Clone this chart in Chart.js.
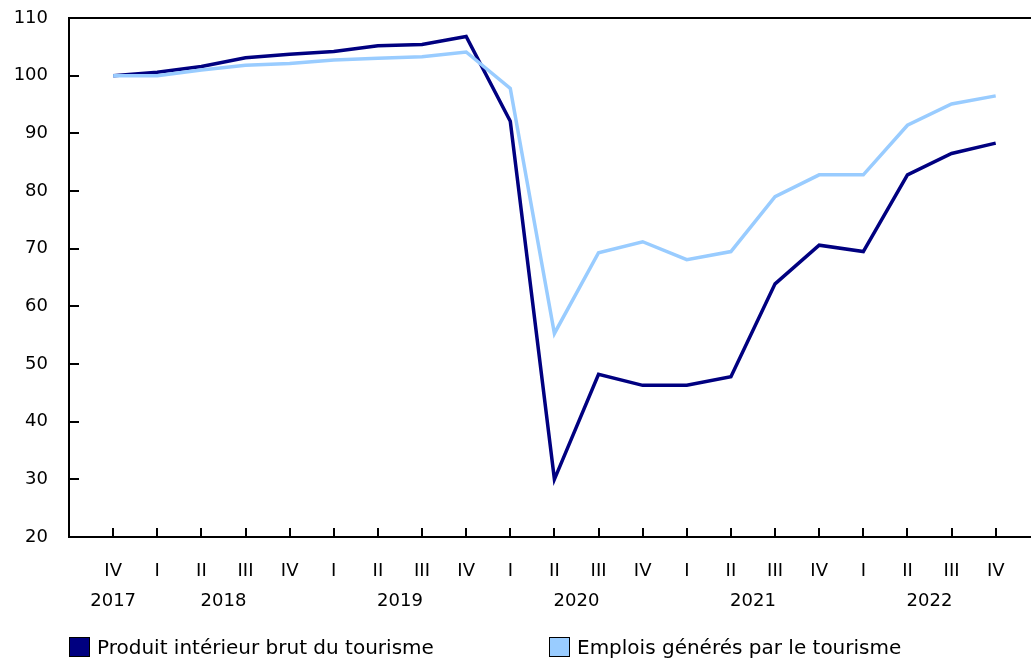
<!DOCTYPE html>
<html>
<head>
<meta charset="utf-8">
<script src="https://cdn.jsdelivr.net/npm/chart.js@4/dist/chart.umd.min.js"></script>
<style>
    body { margin: 0; background: #fff; overflow: hidden; }
    #wrap { position: relative; width: 1031px; height: 659px; }
    #legend { position: absolute; left: 69px; top: 636px; font: 20px "DejaVu Sans", Verdana, sans-serif; color: #000; white-space: nowrap; line-height: 22px; }
    #legend span.item { position: absolute; top: 0; }
    #legend span.box { display: inline-block; width: 21px; height: 20px; border: 1px solid #000; box-sizing: border-box; vertical-align: -3px; margin-right: 7px; }
</style>
</head>
<body>
<div id="wrap">
    <canvas id="reportChart"></canvas>
    <div id="legend"></div>
</div>
<script>
//Chart data
const quarters = ['IV', 'I', 'II', 'III', 'IV', 'I', 'II', 'III', 'IV', 'I', 'II', 'III', 'IV', 'I', 'II', 'III', 'IV', 'I', 'II', 'III', 'IV'];
const years = [2017, 2018, 2018, 2018, 2018, 2019, 2019, 2019, 2019, 2020, 2020, 2020, 2020, 2021, 2021, 2021, 2021, 2022, 2022, 2022, 2022];
const pibTourisme = [100, 100.6, 101.6, 103.1, 103.7, 104.2, 105.2, 105.4, 106.8, 92.1, 30, 48.2, 46.3, 46.3, 47.8, 63.9, 70.6, 69.5, 82.8, 86.5, 88.3];
const emploisTourisme = [100, 100, 101, 101.8, 102.1, 102.7, 103, 103.3, 104.1, 97.8, 55.3, 69.3, 71.2, 68.1, 69.5, 79, 82.8, 82.8, 91.4, 95.1, 96.5];
const seriesNames = ['Produit intérieur brut du tourisme', 'Emplois générés par le tourisme'];
const yTicks = [20, 30, 40, 50, 60, 70, 80, 90, 100, 110];

Chart.defaults.font.family = '"DejaVu Sans", Verdana, sans-serif';
Chart.defaults.font.size = 18;
Chart.defaults.color = '#000';

// year label sits in the middle of its quarters
let yearCenters = [];
let yearLabels = [];
for (let i = 0; i < years.length; i++) {
    if (yearLabels.indexOf(years[i]) < 0) {
        let first = years.indexOf(years[i]);
        let last = years.lastIndexOf(years[i]);
        yearLabels.push(years[i]);
        yearCenters.push((first + last) / 2);
    }
}

const xMin = -1;
const xMax = quarters.length - 0.2;

// inside ticks + top frame line
const frame = {
    id: 'frame',
    afterDatasetsDraw(chart) {
        const ctx = chart.ctx;
        const area = chart.chartArea;
        const x = chart.scales.x;
        const y = chart.scales.y;
        ctx.save();
        ctx.strokeStyle = '#000';
        ctx.lineWidth = 2;
        ctx.beginPath();
        ctx.moveTo(area.left, area.top);
        ctx.lineTo(area.right, area.top);
        yTicks.forEach(function (v) {
            const py = Math.round(y.getPixelForValue(v));
            ctx.moveTo(area.left, py);
            ctx.lineTo(area.left + 10, py);
        });
        quarters.forEach(function (q, i) {
            const px = Math.round(x.getPixelForValue(i));
            ctx.moveTo(px, area.bottom);
            ctx.lineTo(px, area.bottom - 9);
        });
        ctx.stroke();
        ctx.restore();
    }
};

const chart = new Chart(document.getElementById('reportChart'), {
    type: 'line',
    data: {
        datasets: [
            {
                label: seriesNames[0],
                data: pibTourisme.map(function (v, i) { return { x: i, y: v }; }),
                borderColor: '#000080',
                backgroundColor: '#000080',
                borderWidth: 3.5,
                pointRadius: 0,
                fill: false,
                order: 2
            },
            {
                label: seriesNames[1],
                data: emploisTourisme.map(function (v, i) { return { x: i, y: v }; }),
                borderColor: '#99ccff',
                backgroundColor: '#99ccff',
                borderWidth: 3.5,
                pointRadius: 0,
                fill: false,
                order: 1
            }
        ]
    },
    options: {
        responsive: true,
        maintainAspectRatio: false,
        animation: false,
        layout: { padding: { left: 14, top: 18, right: 0, bottom: 46 } },
        plugins: {
            legend: { display: false },
            tooltip: { enabled: false }
        },
        scales: {
            x: {
                type: 'linear',
                position: 'bottom',
                min: xMin,
                max: xMax,
                afterBuildTicks: function (scale) {
                    scale.ticks = quarters.map(function (q, i) { return { value: i }; });
                },
                afterFit: function (scale) { scale.height = 46; },
                ticks: {
                    autoSkip: false,
                    maxRotation: 0,
                    padding: 24,
                    callback: function (v) { return quarters[v]; }
                },
                grid: { display: true, drawOnChartArea: false, drawTicks: false },
                border: { display: true, color: '#000', width: 2 }
            },
            x2: {
                type: 'linear',
                position: 'bottom',
                min: xMin,
                max: xMax,
                afterBuildTicks: function (scale) {
                    scale.ticks = yearCenters.map(function (c) { return { value: c }; });
                },
                afterFit: function (scale) { scale.height = 30; },
                ticks: {
                    autoSkip: false,
                    maxRotation: 0,
                    padding: 8,
                    callback: function (v) { return yearLabels[yearCenters.indexOf(v)]; }
                },
                grid: { display: false, drawTicks: false },
                border: { display: false }
            },
            y: {
                min: 20,
                max: 110,
                afterBuildTicks: function (scale) {
                    scale.ticks = yTicks.map(function (v) { return { value: v }; });
                },
                afterFit: function (scale) {
                    scale.width = 55;
                    scale.paddingTop = 0;
                    scale.paddingBottom = 0;
                },
                ticks: { padding: 21 },
                grid: { display: true, drawOnChartArea: false, drawTicks: false },
                border: { display: true, color: '#000', width: 2 }
            }
        }
    },
    plugins: [frame]
});

// legend spread out like the source
const legendPos = [0, 480];
const legend = document.getElementById('legend');
chart.data.datasets.forEach(function (ds, i) {
    const item = document.createElement('span');
    item.className = 'item';
    item.style.left = legendPos[i] + 'px';
    item.innerHTML = '<span class="box" style="background:' + ds.borderColor + '"></span>' + ds.label;
    legend.appendChild(item);
});
</script>
</body>
</html>
